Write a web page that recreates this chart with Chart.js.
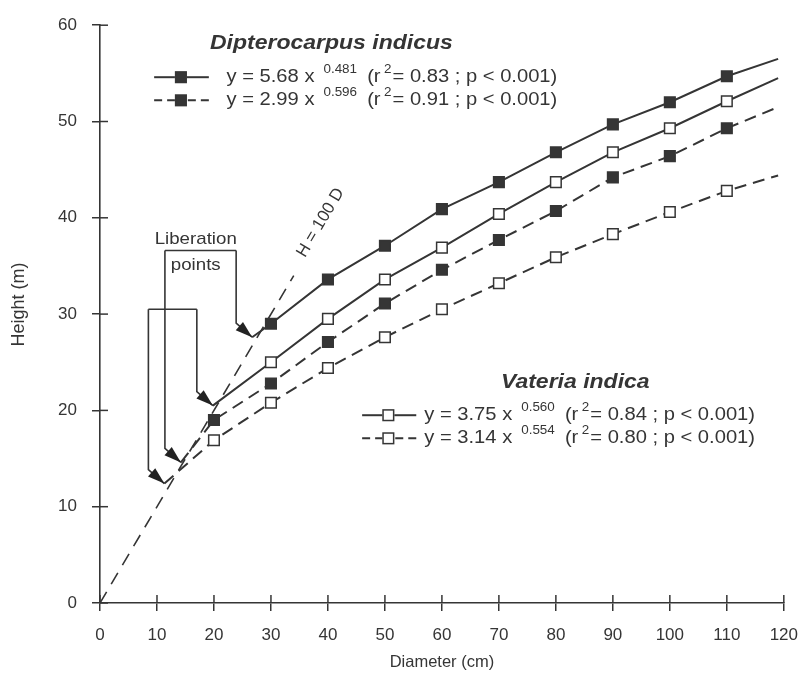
<!DOCTYPE html>
<html><head><meta charset="utf-8">
<script src="https://cdn.jsdelivr.net/npm/chart.js@4/dist/chart.umd.min.js"></script>
<style>html,body{margin:0;padding:0;background:#fff}#wrap{width:812px;height:675px}</style>
</head><body><div id="wrap"><canvas id="c" width="812" height="675"></canvas></div>
<script>
// ---- Data ----
// Dipterocarpus indicus, model 1 (solid line, filled squares)
const dipSolidD = [26.7, 30, 40, 50, 60, 70, 80, 90, 100, 110, 119];
const dipSolidH = [27.6, 29.0, 33.6, 37.1, 40.9, 43.7, 46.8, 49.7, 52.0, 54.7, 56.5];
// Dipterocarpus indicus, model 2 (dashed line, filled squares)
const dipDashD = [14.2, 20, 30, 40, 50, 60, 70, 80, 90, 100, 110, 119];
const dipDashH = [14.6, 19.0, 22.8, 27.1, 31.1, 34.6, 37.7, 40.7, 44.2, 46.4, 49.3, 51.5];
// Vateria indica, model 1 (solid line, open squares)
const vatSolidD = [19.8, 30, 40, 50, 60, 70, 80, 90, 100, 110, 119];
const vatSolidH = [20.5, 25.0, 29.5, 33.6, 36.9, 40.4, 43.7, 46.8, 49.3, 52.1, 54.5];
// Vateria indica, model 2 (dashed line, open squares)
const vatDashD = [11.3, 20, 30, 40, 50, 60, 70, 80, 90, 100, 110, 119];
const vatDashH = [12.4, 16.9, 20.8, 24.4, 27.6, 30.5, 33.2, 35.9, 38.3, 40.6, 42.8, 44.4];
// Reference line H = 100 D
const refD = [0, 34];
const refH = [0, 34];
// Axis ticks
const xTicks = [0, 10, 20, 30, 40, 50, 60, 70, 80, 90, 100, 110, 120];
const yTicks = [0, 10, 20, 30, 40, 50, 60];
// Legend equations
const speciesNames = ['Dipterocarpus indicus', 'Vateria indica'];
const eqCoef = ['5.68', '2.99', '3.75', '3.14'];
const eqExp  = ['0.481', '0.596', '0.560', '0.554'];
const eqR2   = ['0.83', '0.91', '0.84', '0.80'];
// Liberation points (arrow targets) : [D, H]
const liberationPts = [[26.7, 27.6], [14.2, 14.6], [19.8, 20.5], [11.3, 12.4]];

const ink = '#353535';
const FONT = '"Liberation Sans", Arial, sans-serif';

function pts(D, H) { return D.map((d, i) => ({ x: d, y: H[i] })); }
function innerRadius(c) {
  const n = c.dataset.data.length;
  return (c.dataIndex === 0 || c.dataIndex === n - 1) ? 0 : 7.5;
}

function series(D, H, filled, dashed) {
  return {
    data: pts(D, H), showLine: true, fill: false, tension: 0,
    borderColor: ink, borderWidth: 2, borderDash: dashed ? [12, 7] : [],
    pointStyle: 'rect', pointRadius: innerRadius, pointHoverRadius: innerRadius,
    pointBackgroundColor: filled ? ink : '#ffffff', pointBorderColor: ink, pointBorderWidth: 1.5
  };
}

function drawMarker(ctx, x, y, filled) {
  const s = 10.6;
  ctx.save();
  ctx.setLineDash([]);
  ctx.fillStyle = filled ? ink : '#fff';
  ctx.strokeStyle = ink; ctx.lineWidth = 1.5;
  ctx.fillRect(x - s / 2, y - s / 2, s, s);
  ctx.strokeRect(x - s / 2, y - s / 2, s, s);
  ctx.restore();
}

function drawEq(ctx, x, y, i) {
  const sx = 1.12;
  ctx.save();
  ctx.translate(x, y); ctx.scale(sx, 1);
  ctx.fillStyle = ink; ctx.textBaseline = 'middle'; ctx.textAlign = 'left';
  const main = '18px ' + FONT, sup = '12px ' + FONT;
  let cx = 0;
  ctx.font = main; const s1 = 'y = ' + eqCoef[i] + ' x';
  ctx.fillText(s1, cx, 0); cx += ctx.measureText(s1).width + 8;
  ctx.font = sup; ctx.fillText(eqExp[i], cx, -8); cx += ctx.measureText(eqExp[i]).width + 9;
  ctx.font = main; ctx.fillText('(r', cx, 0); cx += ctx.measureText('(r').width + 3;
  ctx.font = sup; ctx.fillText('2', cx, -8); cx += ctx.measureText('2').width + 1;
  ctx.font = main; ctx.fillText('= ' + eqR2[i] + ' ; p < 0.001)', cx, 0);
  ctx.restore();
}

function drawTitle(ctx, x, y, txt) {
  ctx.save();
  ctx.translate(x, y); ctx.scale(1.15, 1);
  ctx.fillStyle = ink; ctx.textAlign = 'center'; ctx.textBaseline = 'middle';
  ctx.font = 'italic bold 20px ' + FONT;
  ctx.fillText(txt, 0, 0);
  ctx.restore();
}

function legendRow(ctx, xs, x0, x1, xm, xt, y, filled, dashed, i) {
  const X0 = xs.getPixelForValue(x0), X1 = xs.getPixelForValue(x1), XM = xs.getPixelForValue(xm);
  ctx.save();
  ctx.strokeStyle = ink; ctx.lineWidth = 2;
  ctx.setLineDash(dashed ? [8, 5] : []);
  ctx.beginPath(); ctx.moveTo(X0, y); ctx.lineTo(XM - 6, y); ctx.stroke();
  ctx.beginPath(); ctx.moveTo(X1, y); ctx.lineTo(XM + 6, y); ctx.stroke();
  ctx.restore();
  drawMarker(ctx, XM, y, filled);
  drawEq(ctx, xs.getPixelForValue(xt), y, i);
}

function arrowTo(ctx, tx, ty, topY) {
  // vertical leg then filled arrow head pointing down-right to (tx,ty)
  const lx = tx - 16, ly = ty - 14;
  ctx.beginPath(); ctx.moveTo(lx, topY); ctx.lineTo(lx, ly); ctx.lineTo(tx, ty); ctx.stroke();
  const ang = Math.atan2(ty - ly, tx - lx);
  const len = 17, hw = 5.5;
  const bx = tx - len * Math.cos(ang), by = ty - len * Math.sin(ang);
  ctx.beginPath();
  ctx.moveTo(tx, ty);
  ctx.lineTo(bx + hw * Math.sin(ang), by - hw * Math.cos(ang));
  ctx.lineTo(bx - hw * Math.sin(ang), by + hw * Math.cos(ang));
  ctx.closePath(); ctx.fill();
}

const annot = {
  id: 'annot',
  afterDraw(chart) {
    const ctx = chart.ctx, xs = chart.scales.x, ys = chart.scales.y;
    const ca = chart.chartArea;
    ctx.save();
    // inward tick marks (ticks cross the axes)
    ctx.strokeStyle = ink; ctx.lineWidth = 1.5;
    yTicks.forEach(v => { const p = ys.getPixelForValue(v); ctx.beginPath(); ctx.moveTo(ca.left, p); ctx.lineTo(ca.left + 8, p); ctx.stroke(); });
    xTicks.forEach(v => { const p = xs.getPixelForValue(v); ctx.beginPath(); ctx.moveTo(p, ca.bottom); ctx.lineTo(p, ca.bottom - 8); ctx.stroke(); });

    // y-axis title
    ctx.save();
    ctx.translate(19, ys.getPixelForValue(31));
    ctx.rotate(-Math.PI / 2);
    ctx.fillStyle = ink; ctx.font = '18px ' + FONT; ctx.textAlign = 'center'; ctx.textBaseline = 'middle';
    ctx.fillText('Height (m)', 0, 0);
    ctx.restore();

    // H = 100 D label
    const ang = Math.atan2(ys.getPixelForValue(1) - ys.getPixelForValue(0), xs.getPixelForValue(1) - xs.getPixelForValue(0));
    ctx.save();
    ctx.translate(xs.getPixelForValue(38.7), ys.getPixelForValue(39.5));
    ctx.rotate(ang);
    ctx.fillStyle = ink; ctx.font = '17px ' + FONT; ctx.textAlign = 'center'; ctx.textBaseline = 'middle';
    ctx.fillText('H = 100 D', 0, 0);
    ctx.restore();

    // Liberation points label + brackets
    ctx.fillStyle = ink; ctx.font = '17px ' + FONT; ctx.textAlign = 'center'; ctx.textBaseline = 'middle';
    ctx.save(); ctx.translate(xs.getPixelForValue(16.8), ys.getPixelForValue(37.8)); ctx.scale(1.1, 1); ctx.fillText('Liberation', 0, 0); ctx.restore();
    ctx.save(); ctx.translate(xs.getPixelForValue(16.8), ys.getPixelForValue(35.1)); ctx.scale(1.1, 1); ctx.fillText('points', 0, 0); ctx.restore();
    ctx.strokeStyle = ink; ctx.lineWidth = 1.6; ctx.fillStyle = '#222';
    const P = liberationPts.map(p => [xs.getPixelForValue(p[0]), ys.getPixelForValue(p[1])]);
    const hA = ys.getPixelForValue(36.6), hB = ys.getPixelForValue(30.5);
    ctx.beginPath(); ctx.moveTo(P[1][0] - 16, hA); ctx.lineTo(P[0][0] - 16, hA); ctx.stroke();
    arrowTo(ctx, P[0][0], P[0][1], hA);
    arrowTo(ctx, P[1][0], P[1][1], hA);
    ctx.beginPath(); ctx.moveTo(P[3][0] - 16, hB); ctx.lineTo(P[2][0] - 16, hB); ctx.stroke();
    arrowTo(ctx, P[2][0], P[2][1], hB);
    arrowTo(ctx, P[3][0], P[3][1], hB);

    // Legends
    drawTitle(ctx, xs.getPixelForValue(40.6), ys.getPixelForValue(58.1), speciesNames[0]);
    legendRow(ctx, xs, 9.5, 19.1, 14.2, 22.2, ys.getPixelForValue(54.6), true, false, 0);
    legendRow(ctx, xs, 9.5, 19.1, 14.2, 22.2, ys.getPixelForValue(52.2), true, true, 1);
    drawTitle(ctx, xs.getPixelForValue(83.4), ys.getPixelForValue(22.9), speciesNames[1]);
    legendRow(ctx, xs, 46.0, 55.5, 50.6, 56.9, ys.getPixelForValue(19.5), false, false, 2);
    legendRow(ctx, xs, 46.0, 55.5, 50.6, 56.9, ys.getPixelForValue(17.1), false, true, 3);
    ctx.restore();
  }
};

const tickFont = { family: FONT, size: 17 };
new Chart(document.getElementById('c'), {
  type: 'scatter',
  data: {
    datasets: [
      { data: pts(refD, refH), showLine: true, borderColor: ink, borderWidth: 1.6, borderDash: [13, 9], pointRadius: 0, pointHoverRadius: 0 },
      series(vatDashD, vatDashH, false, true),
      series(dipDashD, dipDashH, true, true),
      series(vatSolidD, vatSolidH, false, false),
      series(dipSolidD, dipSolidH, true, false)
    ]
  },
  options: {
    responsive: false, animation: false, devicePixelRatio: 1,
    layout: { padding: { top: 24, right: 20, left: 0, bottom: 0 } },
    plugins: { legend: { display: false }, tooltip: { enabled: false } },
    scales: {
      x: {
        type: 'linear', min: 0, max: 120,
        afterBuildTicks(s) { s.ticks = xTicks.map(v => ({ value: v })); },
        afterFit(s) { s.height = 72; },
        ticks: { color: ink, font: tickFont, padding: 14, maxRotation: 0, autoSkip: false },
        grid: { drawOnChartArea: false, tickLength: 8, color: ink, lineWidth: 1.5 },
        border: { color: ink, width: 1.6 },
        title: { display: true, text: 'Diameter (cm)', color: ink, font: { family: FONT, size: 16.5 }, padding: { top: 0, bottom: 3 } }
      },
      y: {
        type: 'linear', min: 0, max: 60,
        afterBuildTicks(s) { s.ticks = yTicks.map(v => ({ value: v })); },
        afterFit(s) { s.width = 100; },
        ticks: { color: ink, font: tickFont, padding: 15 },
        grid: { drawOnChartArea: false, tickLength: 8, color: ink, lineWidth: 1.5 },
        border: { color: ink, width: 1.6 },
        title: { display: false }
      }
    }
  },
  plugins: [annot]
});
</script></body></html>
